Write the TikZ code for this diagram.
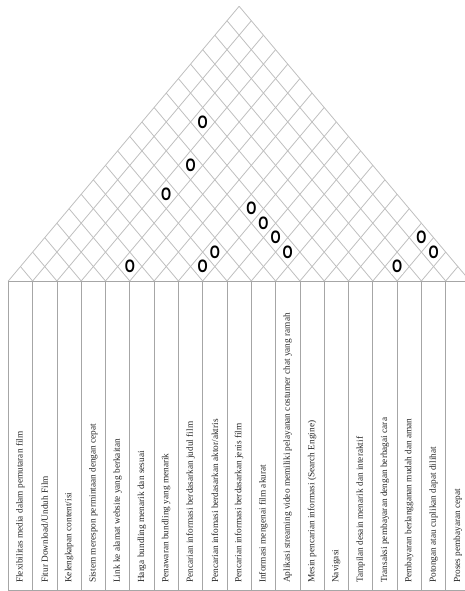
\documentclass[tikz,border=0pt]{standalone}
\usepackage{fontspec}
\setmainfont{Liberation Serif}
\newfontfamily\markfont{Liberation Sans}

\begin{document}
\begin{tikzpicture}[x=1pt, y=-1pt]
        \tikzstyle{every node}=[font=\fontsize{9.3}{10}\selectfont, text=black!85]
        \tikzstyle{roofline}=[draw=black!25, line width=0.8pt]
        \tikzstyle{colline}=[draw=black!35, line width=0.8pt]
        \tikzstyle{req}=[rotate=90, anchor=west, inner sep=0pt]
        \tikzstyle{weak}=[fill=white, inner sep=0.6pt, text=black, font=\markfont\bfseries\fontsize{18}{18}\selectfont]

        \useasboundingbox (0,0) rectangle (465,591);
        \clip (0,0) rectangle (465,591);

        % Roof
        \foreach \k in {0,...,19} {
            \pgfmathsetmacro{\bx}{8.3+24.3*\k}
            \draw[roofline] (\bx,281) -- ({(\bx+470)/2},{281-1.19*(470-\bx)/2});
            \draw[roofline] (\bx,281) -- ({(\bx+8.3)/2},{281-1.19*(\bx-8.3)/2});
        }

        % Columns
        \draw[colline] (8.3,281) -- (470,281);
        \draw[colline] (8.3,590) -- (470,590);
        \foreach \k in {0,...,19}
            \draw[colline] ({8.3+24.3*\k},281) -- ({8.3+24.3*\k},590);

        % Requirements
        \foreach \t [count=\i] in {Flexibilitas media dalam pemutaran film,
                Fitur Download/Unduh Film,
                Kelengkapan content/isi,
                Sistem merespon permintaan dengan cepat,
                Link ke alamat website yang berkaitan,
                Harga bundling menarik dan sesuai,
                Penawaran bundling yang menarik,
                Pencarian informasi berdasarkan judul film,
                Pencarian infomasi berdasarkan aktor/aktris,
                Pencarian informasi berdasarkan jenis film,
                Informasi mengenai film akurat,
                Aplikasi streaming video memiliki pelayanan costumer chat yang ramah,
                Mesin pencarian informasi (Search Engine),
                Navigasi,
                Tampilan desain menarik dan interaktif,
                Transaksi pembayaran dengan berbagai cara,
                Pembayaran berlangganan mudah dan aman,
                Potongan atau cuplikan dapat dilihat,
                Proses pembayaran cepat}
            \node[req] (r\i) at ({8.3+24.3*(\i-0.5)},583) {\t};

        % Weak relations
        \foreach \a/\b in {3/14, 4/12, 4/10, 8/13, 9/13, 10/13, 11/13, 8/10, 8/9, 5/6, 16/17, 16/19, 17/19}
            \node[weak] (w\a-\b) at ({8.3+24.3*((\a+\b)/2-0.5)},{281-1.19*24.3*(\b-\a)/2}) {\scalebox{0.72}[1]{O}};
\end{tikzpicture}
\end{document}
